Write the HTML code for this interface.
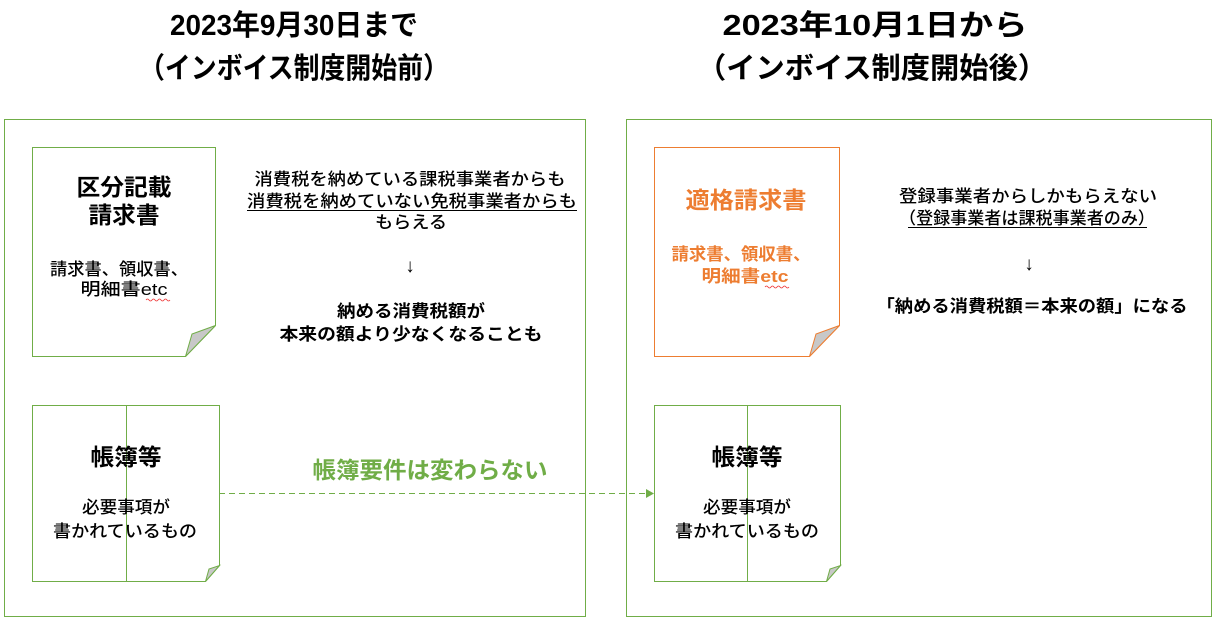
<!DOCTYPE html>
<html><head><meta charset="utf-8"><style>
html,body{margin:0;padding:0;background:#fff;}
svg{display:block;font-family:"Liberation Sans","Noto Sans CJK JP",sans-serif;}
</style></head><body>
<svg width="1216" height="623" viewBox="0 0 1216 623" xmlns="http://www.w3.org/2000/svg">
<g font-weight="bold" font-size="29" text-anchor="middle" fill="#000">
<text x="294" y="35" textLength="248" lengthAdjust="spacingAndGlyphs">2023年9月30日まで</text>
<text x="294" y="78" textLength="310" lengthAdjust="spacingAndGlyphs">（インボイス制度開始前）</text>
<text x="875" y="35" textLength="305" lengthAdjust="spacingAndGlyphs">2023年10月1日から</text>
<text x="872" y="78" textLength="350" lengthAdjust="spacingAndGlyphs">（インボイス制度開始後）</text>
</g>
<rect x="4.5" y="119.5" width="581" height="497" fill="none" stroke="#70AD47" stroke-width="1"/>
<rect x="626.5" y="119.5" width="585" height="497" fill="none" stroke="#70AD47" stroke-width="1"/>

<!-- left doc 1 -->
<path d="M32.5 147.5 H215.5 V325.5 L185.5 356.5 H32.5 Z" fill="#fff" stroke="#70AD47"/>
<path d="M215.5 325.5 L185.5 356.5 L192 334 Z" fill="#c8c8c8" stroke="#70AD47"/>
<g text-anchor="middle" fill="#000">
<text x="124" y="195" font-size="23" font-weight="bold" textLength="95" lengthAdjust="spacingAndGlyphs">区分記載</text>
<text x="124" y="223" font-size="23" font-weight="bold" textLength="71" lengthAdjust="spacingAndGlyphs">請求書</text>
<text x="119" y="275" font-size="17" font-weight="500" textLength="138" lengthAdjust="spacingAndGlyphs">請求書、領収書、</text>
<text x="124" y="295" font-size="17" font-weight="500" textLength="87" lengthAdjust="spacingAndGlyphs">明細書etc</text>
</g>
<path d="M146 300 q1.5 -2 3 0 t3 0 t3 0 t3 0 t3 0 t3 0 t3 0 t3 0" fill="none" stroke="#e33" stroke-width="0.8"/>
<!-- left text -->
<g text-anchor="middle" fill="#000" font-size="17" font-weight="500">
<text x="410" y="185" textLength="311" lengthAdjust="spacingAndGlyphs">消費税を納めている課税事業者からも</text>
<text x="412" y="207" textLength="330" lengthAdjust="spacingAndGlyphs">消費税を納めていない免税事業者からも</text>
<line x1="247" y1="210.5" x2="577" y2="210.5" stroke="#000" stroke-width="1"/>
<text x="411" y="228" textLength="72" lengthAdjust="spacingAndGlyphs">もらえる</text>
<text x="410" y="272" font-size="19">↓</text>
<text x="411" y="317" font-weight="bold" textLength="148" lengthAdjust="spacingAndGlyphs">納める消費税額が</text>
<text x="411" y="340" font-weight="bold" textLength="263" lengthAdjust="spacingAndGlyphs">本来の額より少なくなることも</text>
</g>

<!-- left doc 2 -->
<path d="M32.5 405.5 H219.5 V565.5 L205.5 581.5 H32.5 Z" fill="#fff" stroke="#70AD47"/>
<line x1="126.5" y1="405" x2="126.5" y2="581" stroke="#70AD47"/>
<path d="M219.5 565.5 L205.5 581.5 L209 569 Z" fill="#c8c8c8" stroke="#70AD47"/>
<g text-anchor="middle" fill="#000">
<text x="126" y="465" font-size="23" font-weight="bold" textLength="71" lengthAdjust="spacingAndGlyphs">帳簿等</text>
<text x="126" y="513" font-size="17" font-weight="500" textLength="88" lengthAdjust="spacingAndGlyphs">必要事項が</text>
<text x="125" y="537" font-size="17" font-weight="500" textLength="144" lengthAdjust="spacingAndGlyphs">書かれているもの</text>
</g>

<!-- arrow -->
<line x1="219" y1="493.5" x2="648" y2="493.5" stroke="#70AD47" stroke-width="1" stroke-dasharray="6,4"/>
<path d="M654 493.5 L646 489 L646 498 Z" fill="#70AD47"/>
<text x="430" y="478" font-size="23" font-weight="bold" fill="#70AD47" text-anchor="middle" textLength="235" lengthAdjust="spacingAndGlyphs">帳簿要件は変わらない</text>

<!-- right doc 1 -->
<path d="M654.5 147.5 H839.5 V325.5 L809.5 356.5 H654.5 Z" fill="#fff" stroke="#ED7D31"/>
<path d="M839.5 325.5 L809.5 356.5 L816 334 Z" fill="#c8c8c8" stroke="#ED7D31"/>
<g text-anchor="middle" fill="#ED7D31" font-weight="bold">
<text x="746" y="208" font-size="23" textLength="121" lengthAdjust="spacingAndGlyphs">適格請求書</text>
<text x="741" y="260" font-size="17" textLength="139" lengthAdjust="spacingAndGlyphs">請求書、領収書、</text>
<text x="745" y="282" font-size="17" textLength="87" lengthAdjust="spacingAndGlyphs">明細書etc</text>
</g>
<path d="M765 287 q1.5 -2 3 0 t3 0 t3 0 t3 0 t3 0 t3 0 t3 0 t3 0" fill="none" stroke="#e33" stroke-width="0.8"/>
<g text-anchor="middle" fill="#000" font-size="17" font-weight="500">
<text x="1028" y="202" textLength="258" lengthAdjust="spacingAndGlyphs">登録事業者からしかもらえない</text>
<text x="1027" y="224" textLength="256" lengthAdjust="spacingAndGlyphs">（登録事業者は課税事業者のみ）</text>
<line x1="908" y1="227.5" x2="1147" y2="227.5" stroke="#000" stroke-width="1"/>
<text x="1029" y="270" font-size="19">↓</text>
<text x="1032" y="312" font-weight="bold" textLength="311" lengthAdjust="spacingAndGlyphs">「納める消費税額＝本来の額」になる</text>
</g>

<!-- right doc 2 -->
<path d="M654.5 405.5 H840.5 V565.5 L826.5 581.5 H654.5 Z" fill="#fff" stroke="#70AD47"/>
<line x1="747.5" y1="405" x2="747.5" y2="581" stroke="#70AD47"/>
<path d="M840.5 565.5 L826.5 581.5 L830 569 Z" fill="#c8c8c8" stroke="#70AD47"/>
<g text-anchor="middle" fill="#000">
<text x="747" y="465" font-size="23" font-weight="bold" textLength="71" lengthAdjust="spacingAndGlyphs">帳簿等</text>
<text x="747" y="513" font-size="17" font-weight="500" textLength="88" lengthAdjust="spacingAndGlyphs">必要事項が</text>
<text x="747" y="537" font-size="17" font-weight="500" textLength="144" lengthAdjust="spacingAndGlyphs">書かれているもの</text>
</g>
</svg>
</body></html>
